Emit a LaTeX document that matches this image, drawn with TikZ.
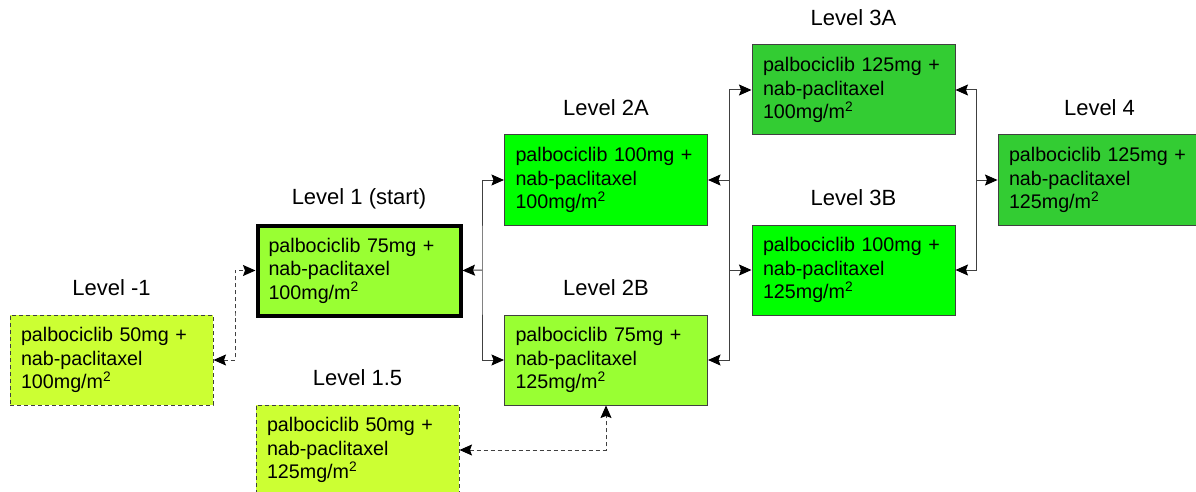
\documentclass[tikz,border=0pt]{standalone}
\usepackage{fontspec}
\setmainfont{Liberation Sans}
\usetikzlibrary{arrows.meta,calc}
\definecolor{cYel}{HTML}{CCFF33}
\definecolor{cLime}{HTML}{99FF33}
\definecolor{cGreen}{HTML}{00FF00}
\definecolor{cDark}{HTML}{33CC33}
\begin{document}
\begin{tikzpicture}[x=1pt,y=-1pt,
  dosebox/.style={draw=black!75, line width=1pt, minimum width=203pt, minimum height=90pt,
    text width=181pt, inner xsep=11pt, inner ysep=0pt, align=left,
    font=\fontsize{19.7}{23.5}\selectfont},
  startbox/.style={dosebox, draw=black, line width=4pt},
  dashbox/.style={dosebox, dash pattern=on 4pt off 3pt},
  lvl/.style={font=\fontsize{22}{26}\selectfont, anchor=base},
  conn/.style={draw=black!75, line width=1pt},
  dconn/.style={conn, dash pattern=on 4pt off 3pt},
  both/.style={arrows={Stealth[length=12.5pt,width=11pt,inset=2pt,color=black]-Stealth[length=12.5pt,width=11pt,inset=2pt,color=black]}},
  one/.style={arrows={-Stealth[length=12.5pt,width=11pt,inset=2pt,color=black]}}
]
\fill[white] (0,0) rectangle (1196,492);
\useasboundingbox (0,0) rectangle (1196,492);

\node[dashbox, fill=cYel] (lm1) at (111.5,360) {palbociclib 50mg +\\nab-paclitaxel\\100mg/m\textsuperscript{2}};
\node[startbox, fill=cLime] (l1) at (359,270.5) {palbociclib 75mg +\\nab-paclitaxel\\100mg/m\textsuperscript{2}};
\node[dashbox, fill=cYel] (l15) at (357.5,450) {palbociclib 50mg +\\nab-paclitaxel\\125mg/m\textsuperscript{2}};
\node[dosebox, fill=cGreen] (l2a) at (606,180) {palbociclib 100mg +\\nab-paclitaxel\\100mg/m\textsuperscript{2}};
\node[dosebox, fill=cLime] (l2b) at (606,360) {palbociclib 75mg +\\nab-paclitaxel\\125mg/m\textsuperscript{2}};
\node[dosebox, fill=cDark] (l3a) at (853.5,90) {palbociclib 125mg +\\nab-paclitaxel\\100mg/m\textsuperscript{2}};
\node[dosebox, fill=cGreen] (l3b) at (853.5,270) {palbociclib 100mg +\\nab-paclitaxel\\125mg/m\textsuperscript{2}};
\node[dosebox, fill=cDark] (l4) at (1099.5,180) {palbociclib 125mg +\\nab-paclitaxel\\125mg/m\textsuperscript{2}};

\node[lvl] (tm1) at ($(lm1.north)+(0,-19)$) {Level -1};
\node[lvl] (t1) at ($(l1.north)+(0,-19)$) {Level 1 (start)};
\node[lvl] (t15) at ($(l15.north)+(0,-19)$) {Level 1.5};
\node[lvl] (t2a) at ($(l2a.north)+(0,-19)$) {Level 2A};
\node[lvl] (t2b) at ($(l2b.north)+(0,-19)$) {Level 2B};
\node[lvl] (t3a) at ($(l3a.north)+(0,-19)$) {Level 3A};
\node[lvl] (t3b) at ($(l3b.north)+(0,-19)$) {Level 3B};
\node[lvl] (t4) at ($(l4.north)+(0,-19)$) {Level 4};

\coordinate (j1) at (235,315);
\coordinate (j2) at (482,270);
\coordinate (j3) at (729,225);
\coordinate (j4) at (976,180);

\draw[dconn,both] (lm1.east) -| (j1) |- (l1.west);
\draw[conn,one] (j2) -- (l1.east);
\draw[conn,both] (l2a.west) -| (j2) |- (l2b.west);
\draw[conn,both] (l3a.west) -| (j3) |- (l2b.east);
\draw[conn,one] (j3 |- l2a.east) -- (l2a.east);
\draw[conn,one] (j3 |- l3b.west) -- (l3b.west);
\draw[conn,both] (l3a.east) -| (j4) |- (l3b.east);
\draw[conn,one] (j4) -- (l4.west);
\draw[dconn,both] (l15.east) -| (l2b.south);
\end{tikzpicture}
\end{document}
